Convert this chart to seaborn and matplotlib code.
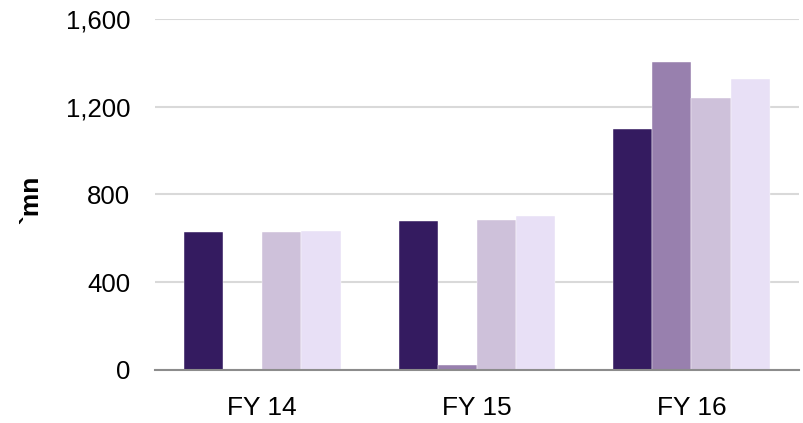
import pandas as pd
import seaborn as sns
import matplotlib.pyplot as plt
from matplotlib.ticker import FuncFormatter

# values (`mn)
years = ['FY 14', 'FY 15', 'FY 16']
series = ['S1', 'S2', 'S3', 'S4']
s1 = [628, 680, 1100]
s2 = [0, 20, 1405]
s3 = [630, 683, 1240]
s4 = [632, 700, 1326]
colors = ['#341B60', '#9880AE', '#CEC1DA', '#E8E0F6']

# long form table for seaborn
rows = []
for name, vals in zip(series, [s1, s2, s3, s4]):
    for yr, v in zip(years, vals):
        rows.append({'year': yr, 'series': name, 'value': v})
df = pd.DataFrame(rows)

sns.set_theme(style='white')
plt.rcParams['font.family'] = ['Liberation Sans', 'DejaVu Sans']

fig = plt.figure(figsize=(8.04, 4.23), dpi=100)
ax = fig.add_axes([0.1928, 0.126, 0.8006, 0.8284])

sns.barplot(data=df, x='year', y='value', hue='series', order=years,
            hue_order=series, palette=colors, width=0.73, saturation=1,
            edgecolor='white', linewidth=0.3, legend=False, ax=ax)

ax.set_ylim(0, 1600)
ax.set_xlim(-0.5, 2.5)
ax.set_yticks([0, 400, 800, 1200, 1600])
ax.yaxis.set_major_formatter(FuncFormatter(lambda v, p: f'{int(v):,}'))
ax.grid(axis='y', color='#D9D9D9', linewidth=1.5)
ax.set_axisbelow(True)

for s in ['top', 'right', 'left']:
    ax.spines[s].set_visible(False)
ax.spines['bottom'].set_color('#8C8C8C')
ax.spines['bottom'].set_linewidth(1.5)

ax.tick_params(axis='y', length=0, pad=18, labelsize=18.5, labelcolor='#000000')
ax.tick_params(axis='x', length=0, pad=19, labelsize=19, labelcolor='#000000')
ax.set_xlabel('')
ax.set_ylabel('`mn', fontsize=19, fontweight='bold', color='#000000')
ax.yaxis.set_label_coords(-0.174, 0.484)

fig.savefig('out.png', dpi=100)
